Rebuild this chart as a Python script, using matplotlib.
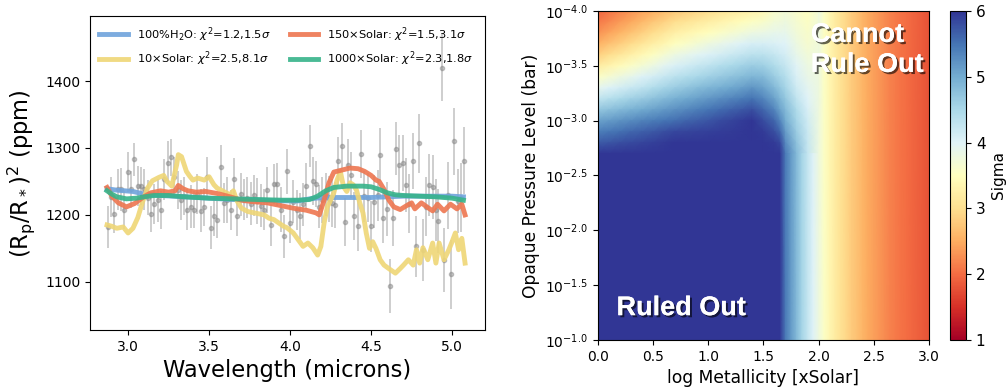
import numpy as np
import matplotlib
matplotlib.use("Agg")
import matplotlib.pyplot as plt
import matplotlib.patheffects as pe
from matplotlib.ticker import FuncFormatter

# ---- transmission spectrum data (microns, ppm) ----
wl = [2.875, 2.895, 2.916, 2.936, 2.957, 2.977, 2.998, 3.018, 3.039, 3.060,
      3.080, 3.100, 3.120, 3.142, 3.162, 3.183, 3.204, 3.224, 3.245, 3.265,
      3.286, 3.307, 3.327, 3.347, 3.366, 3.387, 3.407, 3.428, 3.449, 3.469,
      3.490, 3.510, 3.531, 3.551, 3.572, 3.593, 3.613, 3.634, 3.654, 3.675,
      3.696, 3.716, 3.737, 3.757, 3.778, 3.798, 3.819, 3.840, 3.860, 3.880,
      3.900, 3.920, 3.943, 3.960, 3.980, 4.000, 4.020, 4.040, 4.062, 4.082,
      4.100, 4.120, 4.140, 4.160, 4.180, 4.200, 4.220, 4.240, 4.260, 4.278,
      4.298, 4.319, 4.340, 4.360, 4.376, 4.397, 4.418, 4.438, 4.459, 4.479,
      4.500, 4.520, 4.540, 4.556, 4.576, 4.597, 4.617, 4.638, 4.654, 4.675,
      4.696, 4.716, 4.737, 4.757, 4.778, 4.798, 4.819, 4.840, 4.860, 4.880,
      4.900, 4.915, 4.936, 4.952, 4.973, 4.994, 5.014, 5.035, 5.056, 5.072]
depth = [1182, 1227, 1201, 1238, 1238, 1207, 1264, 1238, 1283, 1243,
         1243, 1238, 1226, 1202, 1216, 1222, 1207, 1253, 1278, 1286,
         1257, 1237, 1222, 1228, 1208, 1212, 1208, 1231, 1206, 1212,
         1257, 1181, 1198, 1193, 1272, 1218, 1222, 1207, 1253, 1198,
         1231, 1223, 1226, 1217, 1229, 1221, 1214, 1208, 1237, 1185,
         1246, 1246, 1208, 1168, 1265, 1188, 1220, 1207, 1198, 1216,
         1243, 1303, 1251, 1246, 1212, 1222, 1230, 1224, 1218, 1215,
         1281, 1303, 1189, 1275, 1260, 1198, 1184, 1291, 1228, 1226,
         1183, 1220, 1229, 1290, 1196, 1209, 1094, 1195, 1299, 1275,
         1278, 1245, 1217, 1281, 1153, 1307, 1148, 1212, 1245, 1242,
         1207, 1191, 1420, 1133, 1229, 1111, 1310, 1221, 1226, 1281]
depth_err = [32, 30, 28, 30, 32, 28, 30, 28, 25, 30,
             28, 30, 26, 28, 30, 32, 28, 30, 32, 28,
             30, 28, 30, 28, 30, 32, 28, 30, 32, 28,
             30, 32, 30, 28, 32, 30, 34, 30, 32, 30,
             32, 30, 30, 32, 30, 34, 32, 30, 34, 32,
             30, 32, 34, 32, 34, 30, 32, 30, 34, 32,
             34, 32, 36, 34, 32, 34, 32, 34, 36, 34,
             36, 34, 36, 38, 34, 36, 38, 36, 38, 36,
             38, 40, 38, 40, 38, 40, 40, 42, 40, 44,
             42, 40, 44, 42, 46, 44, 46, 44, 46, 48,
             46, 48, 50, 48, 50, 52, 50, 48, 52, 50]

# ---- model spectra ----
h2o_wl = [2.87, 2.93, 3.03, 3.10, 3.20, 3.35, 3.50, 3.65, 3.80, 3.95, 4.05,
          4.12, 4.20, 4.30, 4.40, 4.50, 4.60, 4.70, 4.80, 4.90, 5.00, 5.07]
h2o = [1239, 1237, 1235, 1231, 1229, 1227, 1225, 1223, 1222, 1221, 1221,
       1224, 1226, 1226, 1226, 1226, 1227, 1228, 1228, 1228, 1228, 1227]

x10_wl = [2.87, 2.90, 2.93, 2.97, 3.00, 3.03, 3.06, 3.09, 3.12, 3.15, 3.19,
          3.22, 3.24, 3.27, 3.30, 3.31, 3.33, 3.36, 3.38, 3.40, 3.43, 3.47,
          3.50, 3.53, 3.55, 3.59, 3.63, 3.65, 3.67, 3.70, 3.74, 3.78, 3.84,
          3.87, 3.90, 3.93, 3.96, 3.98, 4.02, 4.05, 4.08, 4.11, 4.14, 4.17,
          4.19, 4.21, 4.23, 4.25, 4.27, 4.29, 4.31, 4.33, 4.35, 4.37, 4.39,
          4.41, 4.43, 4.45, 4.47, 4.49, 4.51, 4.53, 4.556, 4.58, 4.62, 4.65,
          4.68, 4.70, 4.73, 4.76, 4.78, 4.80, 4.82, 4.85, 4.88, 4.90, 4.92,
          4.95, 4.98, 5.00, 5.02, 5.04, 5.06, 5.08]
x10 = [1185, 1183, 1180, 1182, 1173, 1180, 1196, 1220, 1240, 1251, 1256,
       1259, 1250, 1243, 1275, 1290, 1287, 1265, 1258, 1252, 1255, 1252,
       1257, 1245, 1240, 1235, 1230, 1236, 1222, 1210, 1205, 1203, 1200,
       1195, 1193, 1188, 1183, 1181, 1173, 1163, 1153, 1158, 1151, 1140,
       1153, 1188, 1212, 1222, 1233, 1252, 1265, 1242, 1235, 1248, 1245,
       1237, 1218, 1203, 1173, 1150, 1160, 1150, 1133, 1125, 1118, 1113,
       1120, 1125, 1133, 1125, 1148, 1128, 1151, 1133, 1158, 1128, 1158,
       1133, 1148, 1160, 1173, 1148, 1165, 1128]

x150_wl = [2.87, 2.90, 2.94, 2.99, 3.04, 3.09, 3.14, 3.20, 3.25, 3.29, 3.31,
           3.34, 3.37, 3.42, 3.48, 3.55, 3.63, 3.70, 3.76, 3.86, 3.96, 4.02,
           4.10, 4.16, 4.18, 4.21, 4.24, 4.27, 4.32, 4.37, 4.42, 4.46, 4.50,
           4.53, 4.55, 4.58, 4.61, 4.64, 4.68, 4.72, 4.75, 4.77, 4.81, 4.85,
           4.88, 4.91, 4.95, 4.99, 5.03, 5.06, 5.08]
x150 = [1241, 1228, 1218, 1212, 1217, 1226, 1233, 1236, 1234, 1236, 1244,
        1239, 1236, 1234, 1235, 1232, 1227, 1222, 1220, 1218, 1213, 1210,
        1207, 1203, 1200, 1222, 1248, 1264, 1267, 1270, 1269, 1265, 1259,
        1252, 1250, 1238, 1222, 1212, 1208, 1214, 1218, 1209, 1218, 1211,
        1206, 1216, 1206, 1216, 1209, 1216, 1200]

x1000_wl = [2.87, 2.90, 2.93, 2.99, 3.05, 3.10, 3.16, 3.25, 3.35, 3.50, 3.65,
            3.80, 3.95, 4.05, 4.12, 4.17, 4.22, 4.27, 4.35, 4.45, 4.50, 4.55,
            4.60, 4.65, 4.70, 4.80, 4.90, 5.00, 5.07]
x1000 = [1236, 1231, 1227, 1224, 1225, 1227, 1229, 1229, 1227, 1225, 1224,
         1223, 1222, 1222, 1223, 1228, 1236, 1241, 1243, 1243, 1242, 1238,
         1233, 1230, 1229, 1228, 1227, 1225, 1222]

# ---- significance grid (sigma) ----
# upper-left block, values at nodes: metallicity 0.0..2.0,
# log pressure -4.0..-2.7 (step 0.1); one list per metallicity node
met_nodes = [0.0, 0.1, 0.2, 0.3, 0.4, 0.5, 0.6, 0.7, 0.8, 0.9, 1.0,
             1.1, 1.2, 1.3, 1.4, 1.5, 1.6, 1.65, 1.7, 1.8, 1.9, 2.0]
logp_nodes = [-4.0, -3.9, -3.8, -3.7, -3.6, -3.5, -3.4, -3.3, -3.2, -3.1,
              -3.0, -2.9, -2.8, -2.7]
sigma_upper = [
    [1.95, 2.1, 2.3, 2.55, 2.85, 3.2, 3.55, 3.9, 4.3, 4.7, 5.1, 5.4, 5.7, 6.0],
    [2.06, 2.23, 2.44, 2.69, 2.99, 3.32, 3.66, 4.01, 4.39, 4.78, 5.16, 5.46, 5.74, 6.0],
    [2.18, 2.36, 2.57, 2.82, 3.12, 3.44, 3.78, 4.11, 4.49, 4.86, 5.23, 5.53, 5.79, 6.0],
    [2.29, 2.48, 2.71, 2.96, 3.26, 3.56, 3.89, 4.22, 4.58, 4.94, 5.29, 5.59, 5.83, 6.0],
    [2.41, 2.61, 2.84, 3.09, 3.39, 3.68, 4.01, 4.32, 4.67, 5.01, 5.36, 5.66, 5.87, 6.0],
    [2.52, 2.74, 2.98, 3.23, 3.53, 3.81, 4.12, 4.43, 4.76, 5.09, 5.42, 5.72, 5.91, 6.0],
    [2.64, 2.87, 3.11, 3.36, 3.66, 3.93, 4.24, 4.54, 4.86, 5.17, 5.49, 5.79, 5.96, 6.0],
    [2.75, 3.0, 3.25, 3.5, 3.8, 4.05, 4.35, 4.65, 4.95, 5.25, 5.55, 5.85, 6.0, 6.0],
    [2.83, 3.08, 3.33, 3.59, 3.88, 4.14, 4.43, 4.73, 5.03, 5.33, 5.61, 5.87, 6.0, 6.0],
    [2.91, 3.16, 3.41, 3.69, 3.96, 4.23, 4.51, 4.81, 5.11, 5.41, 5.68, 5.9, 6.0, 6.0],
    [2.99, 3.24, 3.49, 3.78, 4.04, 4.31, 4.59, 4.89, 5.19, 5.49, 5.74, 5.92, 6.0, 6.0],
    [3.06, 3.31, 3.56, 3.86, 4.11, 4.4, 4.66, 4.96, 5.26, 5.56, 5.81, 5.94, 6.0, 6.0],
    [3.14, 3.39, 3.64, 3.94, 4.19, 4.48, 4.74, 5.04, 5.34, 5.64, 5.87, 5.96, 6.0, 6.0],
    [3.22, 3.47, 3.72, 4.02, 4.27, 4.57, 4.82, 5.12, 5.42, 5.72, 5.94, 5.98, 6.0, 6.0],
    [3.3, 3.55, 3.8, 4.1, 4.35, 4.65, 4.9, 5.2, 5.5, 5.8, 6.0, 6.0, 6.0, 6.0],
    [3.4, 3.6, 3.85, 4.1, 4.35, 4.6, 4.85, 5.1, 5.35, 5.6, 5.82, 5.95, 6.0, 6.0],
    [3.6, 3.72, 3.88, 4.05, 4.25, 4.45, 4.65, 4.85, 5.1, 5.35, 5.6, 5.8, 5.95, 6.0],
    [3.65, 3.75, 3.88, 4.02, 4.18, 4.35, 4.52, 4.7, 4.9, 5.1, 5.35, 5.6, 5.85, 6.0],
    [3.7, 3.78, 3.88, 4.0, 4.12, 4.25, 4.4, 4.55, 4.7, 4.85, 5.0, 5.15, 5.3, 5.45],
    [3.6, 3.66, 3.73, 3.8, 3.88, 3.97, 4.06, 4.16, 4.3, 4.45, 4.55, 4.65, 4.75, 4.85],
    [3.5, 3.55, 3.6, 3.65, 3.72, 3.8, 3.87, 3.93, 4.0, 4.07, 4.15, 4.22, 4.26, 4.28],
    [3.7, 3.72, 3.74, 3.75, 3.76, 3.77, 3.78, 3.78, 3.78, 3.78, 3.78, 3.78, 3.78, 3.78],
]
# deep profile (p > 10^-2.7 bar, and all pressures above 100x solar),
# values at metallicity nodes 0.00, 0.05, ..., 3.00
sigma_deep = [6.0] * 34 + [
    5.45, 5.15, 4.85, 4.55, 4.28, 4.02, 3.78, 3.55, 3.36, 3.2, 3.05, 2.92,
    2.79, 2.68, 2.57, 2.47, 2.39, 2.31, 2.24, 2.17, 2.11, 2.05, 2.0, 1.95,
    1.9, 1.85, 1.8]
met_deep = np.linspace(0, 3, 61)

# ---- figure ----
fig = plt.figure(figsize=(10.08, 3.92), dpi=100)
ax1 = fig.add_axes([0.0893, 0.158, 0.392, 0.801])
ax2 = fig.add_axes([0.593, 0.1327, 0.3286, 0.8393])
cax = fig.add_axes([0.9425, 0.1327, 0.0159, 0.8393])

ax1.errorbar(wl, depth, yerr=depth_err, fmt="o", color="grey", ms=3,
             elinewidth=1.2, alpha=0.45, zorder=1)
ax1.plot(h2o_wl, h2o, color="#6fa3dc", lw=3.5, alpha=0.9,
         label=r"100%H$_2$O: $\chi^2$=1.2,1.5$\sigma$")
ax1.plot(x10_wl, x10, color="#efd676", lw=3.5, alpha=0.9,
         label=r"10$\times$Solar: $\chi^2$=2.5,8.1$\sigma$")
ax1.plot(x150_wl, x150, color="#ee7650", lw=3.5, alpha=0.9,
         label=r"150$\times$Solar: $\chi^2$=1.5,3.1$\sigma$")
ax1.plot(x1000_wl, x1000, color="#36b38a", lw=3.5, alpha=0.9,
         label=r"1000$\times$Solar: $\chi^2$=2.3,1.8$\sigma$")
ax1.set_xlim(2.765, 5.204)
ax1.set_ylim(1028, 1497)
ax1.set_yticks([1100, 1200, 1300, 1400])
ax1.set_xlabel("Wavelength (microns)", fontsize=16.3)
ax1.set_ylabel(r"(R$_{\rm p}$/R$_*$)$^2$ (ppm)", fontsize=16.3, labelpad=6)
ax1.legend(loc="upper left", ncol=2, frameon=False, fontsize=8.2,
           handlelength=2.5, columnspacing=1.7, borderaxespad=0.4)

cmap = plt.get_cmap("RdYlBu")
deep = np.array([sigma_deep, sigma_deep])
ax2.pcolormesh(met_nodes, logp_nodes, np.array(sigma_upper).T, cmap=cmap,
               vmin=1, vmax=6, shading="gouraud")
ax2.pcolormesh(met_deep, [-2.7, -1.0], deep, cmap=cmap,
               vmin=1, vmax=6, shading="gouraud")
ax2.pcolormesh(met_deep[40:], [-4.0, -2.7], deep[:, 40:], cmap=cmap,
               vmin=1, vmax=6, shading="gouraud")
ax2.set_xlim(0, 3)
ax2.set_ylim(-1, -4)
ax2.set_xticks(np.arange(0, 3.01, 0.5))
ax2.set_yticks(np.arange(-4, -0.99, 0.5))
ax2.yaxis.set_major_formatter(FuncFormatter(lambda v, p: r"$10^{%.1f}$" % v))
ax2.tick_params(labelsize=10)
ax2.set_xlabel("log Metallicity [xSolar]", fontsize=12.3)
ax2.set_ylabel("Opaque Pressure Level (bar)", fontsize=12.3)

shadow = [pe.withSimplePatchShadow(offset=(1.5, -1.5), shadow_rgbFace="k",
                                   alpha=0.6), pe.Normal()]
ax2.text(1.93, -3.90, "Cannot\nRule Out", color="white", fontsize=19.5,
         fontweight="bold", family="Liberation Sans", ha="left", va="top",
         linespacing=1.2, path_effects=shadow)
ax2.text(0.17, -1.29, "Ruled Out", color="white", fontsize=19.5,
         fontweight="bold", family="Liberation Sans", ha="left", va="center",
         path_effects=shadow)

sm = plt.cm.ScalarMappable(cmap=cmap, norm=plt.Normalize(1, 6))
cb = fig.colorbar(sm, cax=cax, ticks=[1, 2, 3, 4, 5, 6])
cb.ax.tick_params(labelsize=11)
cb.set_label("Sigma", fontsize=11)

fig.savefig("out.png", dpi=100)
